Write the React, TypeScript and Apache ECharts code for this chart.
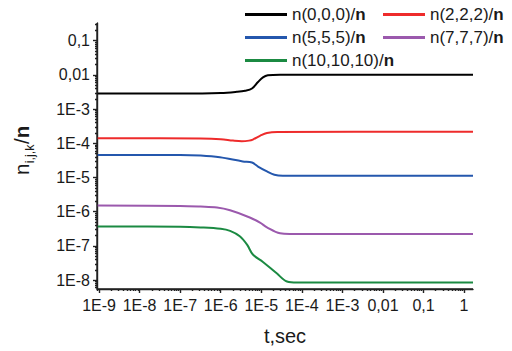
import React, { useEffect, useRef } from "react";
import * as echarts from "echarts";

// ---- data ----
const seriesNames = ["n(0,0,0)/", "n(2,2,2)/", "n(5,5,5)/", "n(7,7,7)/", "n(10,10,10)/"];
const seriesColors = ["#000000", "#ee2b2b", "#2457ad", "#9b59ad", "#1b8a42"];
const legendColumn1 = ["n(0,0,0)/", "n(5,5,5)/", "n(10,10,10)/"];
const legendColumn2 = ["n(2,2,2)/", "n(7,7,7)/"];

const tBlack = [8.9e-10, 1e-7, 1e-6, 2.5e-6, 4.0e-6, 5.9e-6, 8.3e-6, 1.1e-5, 1.45e-5, 2.9e-5, 1.66];
const nBlack = [2.85e-3, 2.85e-3, 2.95e-3, 3.2e-3, 3.45e-3, 4.0e-3, 6.2e-3, 8.5e-3, 9.8e-3, 1.02e-2, 1.02e-2];

const tRed = [8.9e-10, 3.2e-7, 1e-6, 2.0e-6, 3.3e-6, 5.0e-6, 6.2e-6, 9.3e-6, 1.38e-5, 2.5e-5, 1.66];
const nRed = [1.41e-4, 1.38e-4, 1.32e-4, 1.2e-4, 1.15e-4, 1.2e-4, 1.29e-4, 1.66e-4, 2.0e-4, 2.14e-4, 2.19e-4];

const tBlue = [8.9e-10, 1e-7, 3.2e-7, 9.5e-7, 3.5e-6, 5.9e-6, 8.3e-6, 1.38e-5, 2.1e-5, 3.4e-5, 1.66];
const nBlue = [4.57e-5, 4.57e-5, 4.37e-5, 3.89e-5, 2.95e-5, 2.75e-5, 2.09e-5, 1.51e-5, 1.2e-5, 1.12e-5, 1.12e-5];

const tPurple = [8.9e-10, 1e-7, 3.2e-7, 8.1e-7, 1.7e-6, 5.2e-6, 9.3e-6, 1.38e-5, 2.9e-5, 5.0e-5, 1.66];
const nPurple = [1.51e-6, 1.48e-6, 1.41e-6, 1.32e-6, 1.1e-6, 6.8e-7, 4.8e-7, 3.5e-7, 2.34e-7, 2.24e-7, 2.24e-7];

const tGreen = [8.9e-10, 1e-7, 3.2e-7, 1e-6, 1.7e-6, 2.95e-6, 4.5e-6, 6.2e-6, 1.1e-5, 2.4e-5, 4.3e-5, 7.6e-5, 1.66];
const nGreen = [3.72e-7, 3.63e-7, 3.47e-7, 3.16e-7, 2.75e-7, 1.91e-7, 1.07e-7, 5.6e-8, 3.4e-8, 1.58e-8, 9.1e-9, 8.5e-9, 8.5e-9];

const xTickValues = [1e-9, 1e-8, 1e-7, 1e-6, 1e-5, 1e-4, 1e-3, 1e-2, 1e-1, 1];
const xTickLabels = ["1E-9", "1E-8", "1E-7", "1E-6", "1E-5", "1E-4", "1E-3", "0,01", "0,1", "1"];
const yTickValues = [1e-8, 1e-7, 1e-6, 1e-5, 1e-4, 1e-3, 1e-2, 1e-1];
const yTickLabels = ["1E-8", "1E-7", "1E-6", "1E-5", "1E-4", "1E-3", "0,01", "0,1"];

const xMin = 8.9e-10;
const xMax = 1.66;
const yMin = 5.5e-9;
const yMax = 0.33;

const FONT = "Liberation Sans, Arial, sans-serif";
const TEXT = "#1a1a1a";
const AXIS = "#222222";

const lg = (v: number) => Math.log10(v);

function minorTicks(lo: number, hi: number) {
  const out: number[] = [];
  for (let d = Math.floor(lo) - 1; d <= Math.ceil(hi); d++) {
    for (let k = 2; k <= 9; k++) {
      const v = d + Math.log10(k);
      if (v > lo && v < hi) out.push(v);
    }
  }
  return out;
}

function labelFor(values: number[], labels: string[]) {
  const exps = values.map(lg);
  return (v: number) => {
    const i = exps.findIndex((e) => Math.abs(e - v) < 1e-6);
    return i >= 0 ? labels[i] : "";
  };
}

function legendBlock(left: number, names: string[]) {
  return {
    left,
    top: 1,
    orient: "vertical",
    itemGap: 6,
    itemWidth: 42,
    itemHeight: 3,
    icon: "rect",
    data: names,
    formatter: (name: string) => `{a|${name}}{b|n}`,
    textStyle: {
      fontFamily: FONT,
      fontSize: 17,
      color: TEXT,
      rich: {
        a: { fontFamily: FONT, fontSize: 17, color: TEXT },
        b: { fontFamily: FONT, fontSize: 17, fontWeight: "bold", color: TEXT },
      },
    },
  };
}

export default function App() {
  const ref = useRef<HTMLDivElement>(null);
  useEffect(() => {
    if (!ref.current) return;
    const chart = echarts.init(ref.current, undefined, { renderer: "svg" });
    const ts = [tBlack, tRed, tBlue, tPurple, tGreen];
    const ns = [nBlack, nRed, nBlue, nPurple, nGreen];
    const xl = [lg(xMin), lg(xMax)];
    const yl = [lg(yMin), lg(yMax)];
    const axisLineStyle = { color: AXIS, width: 1.4 };
    const yName = {
      type: "group",
      id: "yname",
      x: 28,
      y: 175,
      rotation: Math.PI / 2,
      children: [
        { type: "text", x: 0, y: -7, style: { text: "n", fontFamily: FONT, fontSize: 20.5, fill: TEXT, verticalAlign: "middle", align: "left" } },
        { type: "text", x: 11.8, y: 2, style: { text: "i,j,k", fontFamily: FONT, fontSize: 12.5, fill: TEXT, verticalAlign: "middle", align: "left" } },
        { type: "text", x: 31, y: -7, style: { text: "/", fontFamily: FONT, fontSize: 20.5, fill: TEXT, verticalAlign: "middle", align: "left" } },
        { type: "text", x: 36.8, y: -7, style: { text: "n", fontFamily: FONT, fontSize: 20.5, fontWeight: "bold", fill: TEXT, verticalAlign: "middle", align: "left" } },
      ],
    };
    chart.setOption({
      animation: false,
      grid: { left: 97, right: 39, top: 23, bottom: 59, containLabel: false },
      legend: [legendBlock(240, legendColumn1), legendBlock(378, legendColumn2)],
      xAxis: [
        {
          type: "value",
          min: xl[0],
          max: xl[1],
          position: "bottom",
          splitLine: { show: false },
          axisLine: { show: true, onZero: false, lineStyle: axisLineStyle },
          axisTick: { show: true, customValues: xTickValues.map(lg), length: 4, lineStyle: axisLineStyle },
          axisLabel: {
            customValues: xTickValues.map(lg),
            formatter: labelFor(xTickValues, xTickLabels),
            fontFamily: FONT,
            fontSize: 16,
            color: TEXT,
            margin: 8,
          },
          name: "t,sec",
          nameLocation: "middle",
          nameGap: 37,
          nameTextStyle: { fontFamily: FONT, fontSize: 20, color: TEXT },
        },
        {
          type: "value",
          min: xl[0],
          max: xl[1],
          position: "bottom",
          splitLine: { show: false },
          axisLine: { show: false, onZero: false },
          axisTick: { show: true, customValues: minorTicks(xl[0], xl[1]), length: 2, lineStyle: axisLineStyle },
          axisLabel: { show: false },
        },
      ],
      yAxis: [
        {
          type: "value",
          min: yl[0],
          max: yl[1],
          position: "left",
          splitLine: { show: false },
          axisLine: { show: true, onZero: false, lineStyle: axisLineStyle },
          axisTick: { show: true, customValues: yTickValues.map(lg), length: 4, lineStyle: axisLineStyle },
          axisLabel: {
            customValues: yTickValues.map(lg),
            formatter: labelFor(yTickValues, yTickLabels),
            fontFamily: FONT,
            fontSize: 16,
            color: TEXT,
            margin: 7,
          },
        },
        {
          type: "value",
          min: yl[0],
          max: yl[1],
          position: "left",
          splitLine: { show: false },
          axisLine: { show: false, onZero: false },
          axisTick: { show: true, customValues: minorTicks(yl[0], yl[1]), length: 2, lineStyle: axisLineStyle },
          axisLabel: { show: false },
        },
      ],
      graphic: [yName],
      series: seriesNames.map((name, i) => ({
        name,
        type: "line",
        xAxisIndex: 0,
        yAxisIndex: 0,
        showSymbol: false,
        symbol: "none",
        smooth: 0.35,
        color: seriesColors[i],
        lineStyle: { color: seriesColors[i], width: 2 },
        data: ts[i].map((t, j) => [lg(t), lg(ns[i][j])]),
      })),
    });
    // axis frame (left and bottom) placed through the chart's own coordinate system
    const finder = { seriesIndex: 0 };
    const ok = (p: any) => Array.isArray(p) && isFinite(p[0]) && isFinite(p[1]);
    let p00 = chart.convertToPixel(finder, [xl[0], yl[0]]) as any;
    let p10 = chart.convertToPixel(finder, [xl[1], yl[0]]) as any;
    let p01 = chart.convertToPixel(finder, [xl[0], yl[1]]) as any;
    if (!ok(p00) || !ok(p10) || !ok(p01)) {
      p00 = [97, 292];
      p10 = [473, 292];
      p01 = [97, 23];
    }
    chart.setOption({
      graphic: [
        yName,
        {
          type: "line",
          id: "xline",
          shape: { x1: p00[0], y1: p00[1], x2: p10[0], y2: p10[1] },
          style: { stroke: AXIS, lineWidth: 1.4 },
          z: 10,
        },
        {
          type: "line",
          id: "yline",
          shape: { x1: p00[0], y1: p00[1], x2: p01[0], y2: p01[1] },
          style: { stroke: AXIS, lineWidth: 1.4 },
          z: 10,
        },
      ],
    });
    return () => chart.dispose();
  }, []);
  return <div ref={ref} style={{ width: 512, height: 351, position: "absolute", left: 0, top: 0 }} />;
}
